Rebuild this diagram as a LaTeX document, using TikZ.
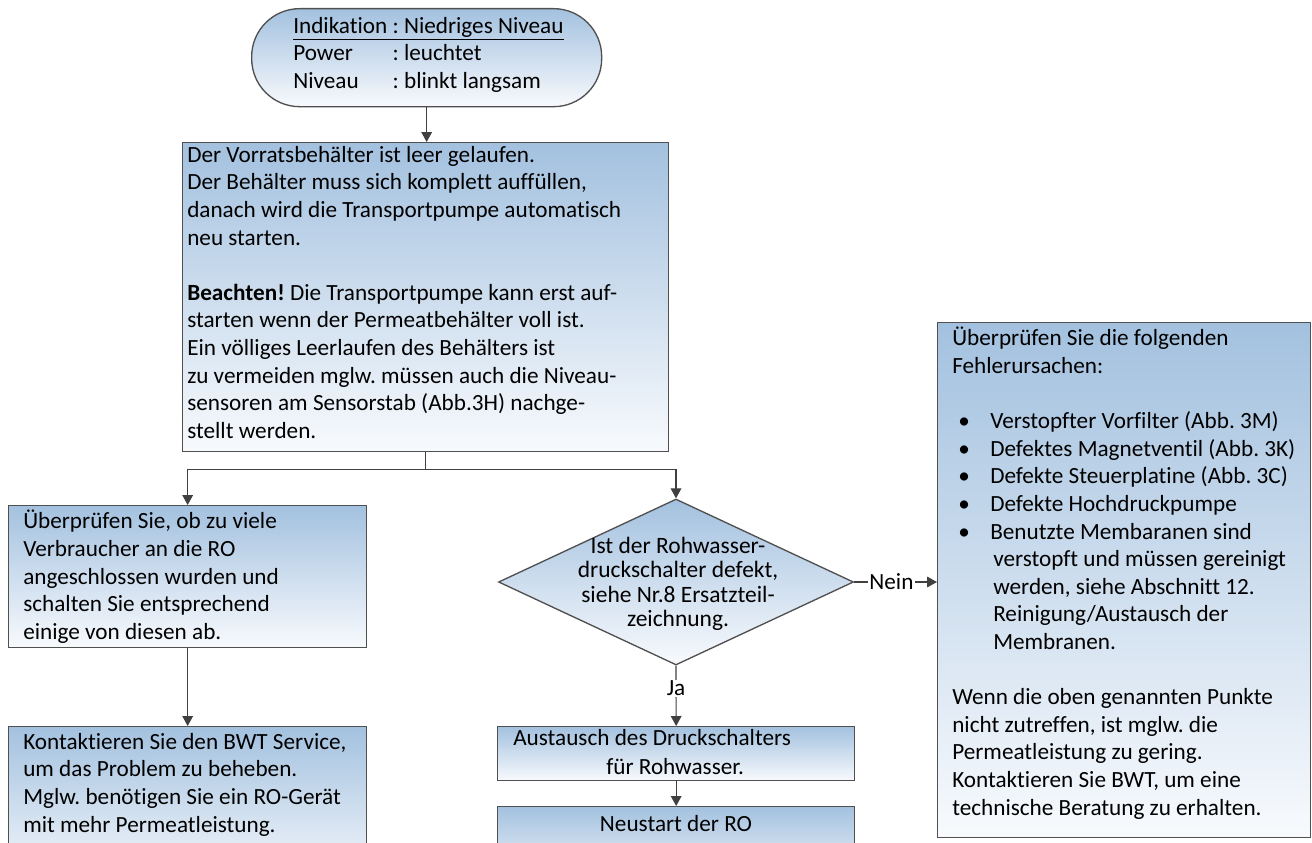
\documentclass[tikz,border=0pt]{standalone}
\usepackage{fontspec}
\setmainfont{Carlito}[Ligatures=NoCommon]
\usetikzlibrary{shapes.geometric,arrows.meta}
\definecolor{boxtop}{RGB}{163,193,223}
\definecolor{boxbot}{RGB}{248,250,253}
\definecolor{edge}{RGB}{80,80,80}
\definecolor{arrc}{RGB}{64,64,64}
\newlength\indw
\newcommand\mybul{\hspace*{4.5pt}\makebox[24pt][l]{\textbullet}}
\newcommand\mycont{\hspace*{30.75pt}}
\frenchspacing
\begin{document}
\settowidth{\indw}{\fontsize{17.4}{20.7}\selectfont Indikation }
\begin{tikzpicture}[x=0.75pt,y=-0.75pt,
 box/.style={draw=edge, line width=1pt, top color=boxtop, bottom color=boxbot, inner sep=0pt, anchor=north west},
 txt/.style={inner sep=0pt, anchor=north west, align=left, font=\fontsize{17.4}{20.7}\selectfont},
 arr/.style={draw=arrc, line width=0.9pt, -{Triangle[width=8pt,length=7.5pt]}},
 lbl/.style={fill=white, inner sep=1pt, font=\fontsize{17.4}{18}\selectfont}]
\useasboundingbox (0,0) rectangle (1312,842);
\clip (0,0) rectangle (1312,842);

% top terminator
\node[box, rounded corners=36pt, minimum width=262.5pt, minimum height=73.5pt] (top) at (251,8) {};
\node[txt] (topt) at (293,17) {\underline{Indikation : Niedriges Niveau}\\
\makebox[\indw][l]{Power}: leuchtet\\
\makebox[\indw][l]{Niveau}: blinkt langsam};

% box 1
\node[box, minimum width=364.5pt, minimum height=231.75pt] (b1) at (182,142) {};
\node[txt] (b1t) at (187,146) {Der Vorratsbehälter ist leer gelaufen.\\
Der Behälter muss sich komplett auffüllen,\\
danach wird die Transportpumpe automatisch\\
neu starten.\\[20.7pt]
\textbf{Beachten!} Die Transportpumpe kann erst auf-\\
starten wenn der Permeatbehälter voll ist.\\
Ein völliges Leerlaufen des Behälters ist\\
zu vermeiden mglw. müssen auch die Niveau-\\
sensoren am Sensorstab (Abb.3H) nachge-\\
stellt werden.};

% left column
\node[box, minimum width=268.5pt, minimum height=106.5pt] (b2) at (8,505) {};
\node[txt] (b2t) at (23,510) {Überprüfen Sie, ob zu viele\\
Verbraucher an die RO\\
angeschlossen wurden und\\
schalten Sie entsprechend\\
einige von diesen ab.};
\node[box, minimum width=268.5pt, minimum height=120pt] (b3) at (8,726) {};
\node[txt] (b3t) at (23,733) {Kontaktieren Sie den BWT Service,\\
um das Problem zu beheben.\\
Mglw. benötigen Sie ein RO-Gerät\\
mit mehr Permeatleistung.};

% decision
\node[diamond, draw=edge, line width=1pt, top color=boxtop, bottom color=boxbot, inner sep=0pt, minimum width=266.25pt, minimum height=124.5pt] (dia) at (676,582) {};
\node[inner sep=0pt, align=center, font=\fontsize{17.6}{18.3}\selectfont] (diat) at (678,584) {Ist der Rohwasser-\\druckschalter defekt,\\siehe Nr.8 Ersatzteil-\\zeichnung.};

% right box
\node[box, minimum width=279.75pt, minimum height=386.25pt] (b4) at (937,322) {};
\node[txt] (b4t) at (952,327) {Überprüfen Sie die folgenden\\
Fehlerursachen:\\[20.7pt]
\mybul Verstopfter Vorfilter (Abb. 3M)\\
\mybul Defektes Magnetventil (Abb. 3K)\\
\mybul Defekte Steuerplatine (Abb. 3C)\\
\mybul Defekte Hochdruckpumpe\\
\mybul Benutzte Membaranen sind\\
\mycont verstopft und müssen gereinigt\\
\mycont werden, siehe Abschnitt 12.\\
\mycont Reinigung/Austausch der\\
\mycont Membranen.\\[20.7pt]
Wenn die oben genannten Punkte\\
nicht zutreffen, ist mglw. die\\
Permeatleistung zu gering.\\
Kontaktieren Sie BWT, um eine\\
technische Beratung zu erhalten.};

% bottom middle
\node[box, minimum width=267.75pt, minimum height=40.5pt] (b5) at (497,726) {};
\node[txt] (b5t) at (513,729) {Austausch des Druckschalters\\[1pt]
\hspace*{69.75pt}für Rohwasser.};
\node[box, minimum width=267.75pt, minimum height=60pt] (b6) at (497,806) {};
\node[inner sep=0pt, font=\fontsize{17.4}{18}\selectfont] (b6t) at (676,824) {Neustart der RO};

% connectors
\draw[arr] (top.south) -- (top.south |- b1.north);
\draw[arr] (b1.south) -- ++(0,17) -| (b2.north);
\draw[arr] (b1.south) -- ++(0,17) -| (dia.north);
\draw[arr] (b2.south) -- (b3.north);
\draw[arr] (dia.east) -- (dia.east -| b4.west) node[lbl, pos=0.45] (nein) {Nein};
\draw[arr] (dia.south) -- (b5.north) node[lbl, pos=0.38] (ja) {Ja};
\draw[arr] (b5.south) -- (b6.north);
\end{tikzpicture}
\end{document}
